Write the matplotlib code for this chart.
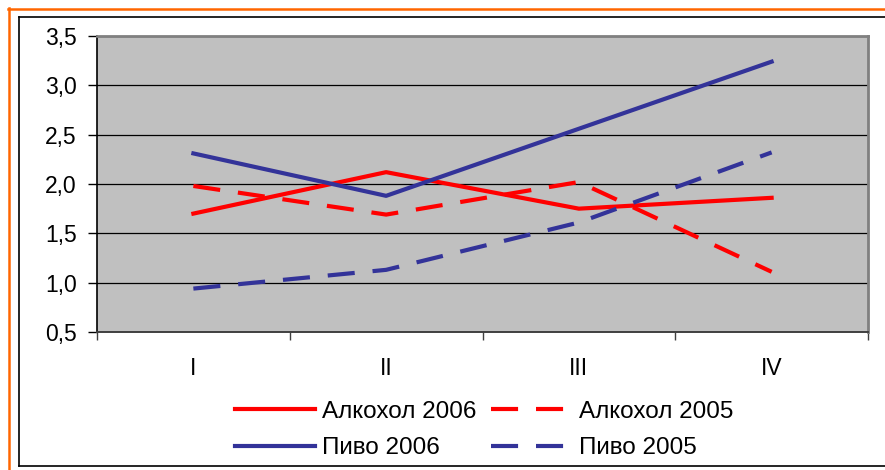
import matplotlib.pyplot as plt
from matplotlib.lines import Line2D

plt.rcParams['font.family'] = ['Liberation Sans', 'DejaVu Sans']

quarters = ["I", "II", "III", "IV"]
alco_2006 = [1.70, 2.12, 1.75, 1.86]
alco_2005 = [1.98, 1.69, 2.02, 1.11]
beer_2006 = [2.31, 1.88, 2.56, 3.24]
beer_2005 = [0.94, 1.13, 1.61, 2.32]
y_ticks = [0.5, 1.0, 1.5, 2.0, 2.5, 3.0, 3.5]
y_labels = ["0,5", "1,0", "1,5", "2,0", "2,5", "3,0", "3,5"]

W, H = 885, 470
fig = plt.figure(figsize=(W / 100, H / 100), dpi=100)
ax = fig.add_axes([97 / W, 1 - 332 / H, (868 - 97) / W, (332 - 36) / H])
ax.set_facecolor("#C0C0C0")

x = [i + 0.5 for i in range(len(quarters))]
red = "#FF0000"
blue = "#333399"
dash = (6.5, 4.3)
lw = 3.0

l1, = ax.plot(x, alco_2006, color=red, lw=lw, label="Алкохол 2006", zorder=3)
l2, = ax.plot(x, alco_2005, color=red, lw=lw, dashes=dash, label="Алкохол 2005", zorder=3)
l3, = ax.plot(x, beer_2006, color=blue, lw=lw, label="Пиво 2006", zorder=3)
l4, = ax.plot(x, beer_2005, color=blue, lw=lw, dashes=dash, label="Пиво 2005", zorder=3)

ax.set_xlim(0, 4)
ax.set_ylim(0.5, 3.5)
ax.set_yticks(y_ticks)
ax.set_yticklabels(y_labels, fontsize=16.5)
ax.tick_params(axis="y", direction="out", length=6.5, width=1, pad=8)
ax.yaxis.grid(True, color="black", lw=0.9)
ax.set_axisbelow(True)

ax.set_xticks(range(5))
ax.set_xticklabels([])
ax.tick_params(axis="x", which="major", direction="out", length=6, width=1, color="#404040")
ax.set_xticks(x, minor=True)
ax.set_xticklabels(quarters, minor=True, fontsize=16.5)
ax.tick_params(axis="x", which="minor", length=0, pad=18)

ax.spines["left"].set_color("black")
ax.spines["left"].set_linewidth(1.2)
ax.spines["bottom"].set_color("#404040")
ax.spines["bottom"].set_linewidth(1.4)
for s in ["top", "right"]:
    ax.spines[s].set_color("#808080")
    ax.spines[s].set_linewidth(2)

fig.legend(handles=[l1, l3, l2, l4], ncol=2, loc="center",
           bbox_to_anchor=(484 / W, 1 - 430 / H), frameon=False, fontsize=17.5,
           handlelength=3.3, handletextpad=0.3, columnspacing=0.6,
           labelspacing=0.6)

# outer frames (pixel positions)
def fline(x0, y0, x1, y1, color, width):
    fig.add_artist(Line2D([x0 / W, x1 / W], [1 - y0 / H, 1 - y1 / H],
                          transform=fig.transFigure, color=color, lw=width))

fline(8, 8.5, 885, 8.5, "#FF6600", 1.8)
fline(8.5, 8, 8.5, 470, "#FF6600", 1.8)
fline(19, 17, 885, 17, "black", 1.2)
fline(19, 17, 19, 466, "black", 1.2)
fline(19, 466, 885, 466, "black", 1.2)

fig.savefig("out.png", dpi=100)
